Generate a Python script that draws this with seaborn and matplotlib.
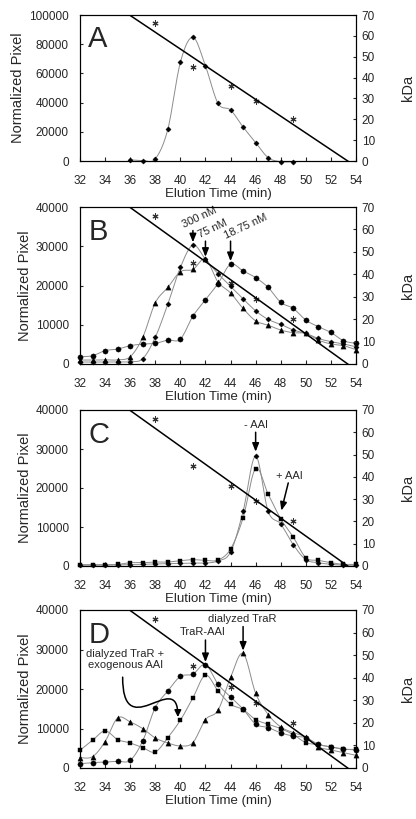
import numpy as np
import matplotlib
matplotlib.use("Agg")
import matplotlib.pyplot as plt
from matplotlib.path import Path
from matplotlib.patches import FancyArrowPatch
import seaborn as sns

# elution times (min)
minutes = list(range(32, 55))
a_minutes = list(range(36, 50))

# molecular weight standards (kDa) on the right axis
std_minutes = [38, 41, 44, 46, 49]
std_kda = [66, 45, 36, 29, 20]

# panel A
a_trar = [800, 300, 1500, 21700, 67600, 84700, 65100, 39500, 34900, 23300,
          12600, 2300, -500, -500]

# panel B
b_300nm = [500, 500, 500, 500, 600, 1350, 6800, 15250, 24600, 30300, 26700,
           23000, 19800, 16600, 13550, 11350, 10100, 8650, 7800, 6500, 5700,
           5100, 4400]
b_75nm = [1000, 1000, 1050, 1050, 1860, 6780, 15600, 19500, 23500, 24100,
          26700, 20900, 18100, 14150, 11000, 9900, 8650, 7970, 7800, 6100,
          5100, 4660, 3640]
b_1875nm = [1860, 2100, 3400, 3800, 4660, 5080, 5250, 6100, 6350, 12200,
            16350, 20500, 25400, 23700, 22000, 19500, 15700, 14150, 11200,
            9500, 8050, 5930, 5250]

# panel C
c_minus_aai = [200, 200, 200, 280, 340, 430, 510, 600, 680, 770, 770, 1280,
               3580, 13990, 28200, 14000, 10750, 5460, 1620, 850, 430, 250, 200]
c_plus_aai = [340, 340, 340, 430, 850, 850, 1020, 1020, 1360, 1620, 1450,
              1530, 4350, 12350, 25000, 18420, 12100, 7420, 2130, 1450, 850,
              430, 430]

# panel D
d_trar_aai = [1100, 1350, 1520, 1690, 1950, 6850, 15300, 19500, 23170, 23760,
              26200, 21200, 18000, 14900, 11100, 10230, 8880, 8100, 7700, 6000,
              5330, 4820, 4570]
d_dialyzed_aai = [4480, 7020, 9390, 7190, 6340, 5160, 4060, 7700, 12100,
                  17760, 23500, 19530, 16150, 14800, 12260, 11080, 9980, 8460,
                  6430, 5920, 5330, 4740, 4740]
d_dialyzed = [2620, 2870, 6680, 12680, 11670, 9980, 7610, 6340, 5580, 6430,
              12260, 14630, 22920, 29000, 18940, 13530, 10400, 8960, 7860,
              5330, 4570, 3890, 3210]

sns.set_style("ticks")
plt.rcParams["font.family"] = ["Liberation Sans", "DejaVu Sans"]


def smooth(x, y, steps=12):
    # bezier smoothing like the spreadsheet "smoothed line" option
    x = np.asarray(x, float)
    y = np.asarray(y, float)
    px = np.concatenate([[x[0]], x, [x[-1]]])
    py = np.concatenate([[y[0]], y, [y[-1]]])
    t = np.linspace(0, 1, steps, endpoint=False)[:, None]
    out = []
    for i in range(len(x) - 1):
        p0 = np.array([px[i], py[i]])
        p1 = np.array([px[i + 1], py[i + 1]])
        p2 = np.array([px[i + 2], py[i + 2]])
        p3 = np.array([px[i + 3], py[i + 3]])
        c1 = p1 + (p2 - p0) / 6
        c2 = p2 - (p3 - p1) / 6
        seg = ((1 - t) ** 3 * p1 + 3 * (1 - t) ** 2 * t * c1
               + 3 * (1 - t) * t ** 2 * c2 + t ** 3 * p2)
        out.append(seg)
    out.append(np.array([[x[-1], y[-1]]]))
    out = np.vstack(out)
    return out[:, 0], out[:, 1]


def draw_panel(ax, series, ymax, ystep, letter):
    ax.set_xlim(32, 54)
    ax.set_ylim(0, ymax)
    for x, y, marker, size in series:
        sx, sy = smooth(x, y)
        ax.plot(sx, sy, color="0.55", lw=0.7, zorder=2, clip_on=False)
        sns.scatterplot(x=x, y=y, marker=marker, s=size, color="black",
                        edgecolor="black", linewidth=0.3, ax=ax, zorder=3,
                        clip_on=False, legend=False)
    ax.set_xticks(range(32, 55, 2))
    ax.set_yticks(np.arange(0, ymax + 1, ystep))
    ax.set_xlim(32, 54)
    ax.set_ylim(0, ymax)
    ax.tick_params(axis="x", direction="in", length=3, pad=10, labelsize=8.5)
    ax.tick_params(axis="y", direction="in", length=2, pad=8, labelsize=8.5)
    ax.set_xlabel("Elution Time (min)", fontsize=9.5, labelpad=1)
    ax.set_ylabel("Normalized Pixel", fontsize=10.5, labelpad=3)
    ax.text(0.03, 0.93, letter, transform=ax.transAxes, fontsize=21,
            ha="left", va="top")

    ax2 = ax.twinx()
    ax2.set_xlim(32, 54)
    sns.regplot(x=std_minutes, y=std_kda, ci=None, truncate=False,
                marker=(6, 2, 0), color="black", ax=ax2,
                scatter_kws=dict(s=14, linewidths=0.8),
                line_kws=dict(lw=1.1))
    ax2.set_xlim(32, 54)
    ax2.set_ylim(0, 70)
    ax2.set_yticks(range(0, 71, 10))
    ax2.set_ylabel("kDa", fontsize=10.5, labelpad=19)
    ax2.tick_params(axis="y", direction="in", length=2, pad=4, labelsize=8.5)
    for a in (ax, ax2):
        for sp in a.spines.values():
            sp.set_visible(True)
            sp.set_color("black")
            sp.set_linewidth(0.8)
    return ax2


def arrow(ax, x, y0, y1):
    ax.annotate("", xy=(x, y1), xytext=(x, y0),
                arrowprops=dict(arrowstyle="-|>,head_length=0.5,head_width=0.2",
                                color="black", lw=1.1, shrinkA=0, shrinkB=0))


fig = plt.figure(figsize=(4.16, 8.19), dpi=100)
left, width = 80 / 416, 276 / 416
ax_a = fig.add_axes([left, 1 - 161 / 819, width, 146 / 819])
ax_b = fig.add_axes([left, 1 - 364 / 819, width, 157 / 819])
ax_c = fig.add_axes([left, 1 - 566 / 819, width, 156 / 819])
ax_d = fig.add_axes([left, 1 - 768 / 819, width, 158 / 819])

draw_panel(ax_a, [(a_minutes, a_trar, "D", 7)], 100000, 20000, "A")

draw_panel(ax_b, [(minutes, b_1875nm, "o", 14),
                  (minutes, b_75nm, "^", 14),
                  (minutes, b_300nm, "D", 7)], 40000, 10000, "B")
ann = dict(fontsize=8, rotation=25, ha="center", va="bottom")
ax_b.text(41.5, 34100, "300 nM", **ann)
ax_b.text(42.6, 31700, "75 nM", **ann)
ax_b.text(45.2, 31400, "18.75 nM", **ann)
arrow(ax_b, 41, 34000, 31000)
arrow(ax_b, 42, 31300, 27300)
arrow(ax_b, 44, 31300, 26200)

draw_panel(ax_c, [(minutes, c_plus_aai, "s", 12),
                  (minutes, c_minus_aai, "D", 7)], 40000, 10000, "C")
ax_c.text(46, 35000, "- AAI", fontsize=8, ha="center", va="bottom")
arrow(ax_c, 46, 34300, 29300)
ax_c.text(48.7, 21900, "+ AAI", fontsize=8, ha="center", va="bottom")
ax_c.annotate("", xy=(48.05, 14200), xytext=(48.6, 21300),
              arrowprops=dict(arrowstyle="-|>,head_length=0.5,head_width=0.2",
                              color="black", lw=1.1, shrinkA=0, shrinkB=0))

draw_panel(ax_d, [(minutes, d_dialyzed_aai, "s", 12),
                  (minutes, d_trar_aai, "o", 14),
                  (minutes, d_dialyzed, "^", 14)], 40000, 10000, "D")
ax_d.text(35.6, 24800, "dialyzed TraR +\nexogenous AAI", fontsize=8,
          ha="center", va="bottom", linespacing=1.1)
ax_d.text(41.8, 33200, "TraR-AAI", fontsize=8, ha="center", va="bottom")
arrow(ax_d, 42, 32400, 26800)
ax_d.text(44.9, 36500, "dialyzed TraR", fontsize=8, ha="center", va="bottom")
arrow(ax_d, 45, 35800, 29700)
curve = Path([(35.4, 23000), (35.4, 15000), (36.3, 14600), (37.5, 16000),
              (38.7, 17400), (39.8, 19500), (39.8, 12900)],
             [Path.MOVETO, Path.CURVE4, Path.CURVE4, Path.CURVE4,
              Path.CURVE4, Path.CURVE4, Path.CURVE4])
ax_d.add_patch(FancyArrowPatch(path=curve, arrowstyle="-|>,head_length=4,head_width=2",
                               color="black", lw=1.1, zorder=4))

fig.savefig("out.png", dpi=100)
